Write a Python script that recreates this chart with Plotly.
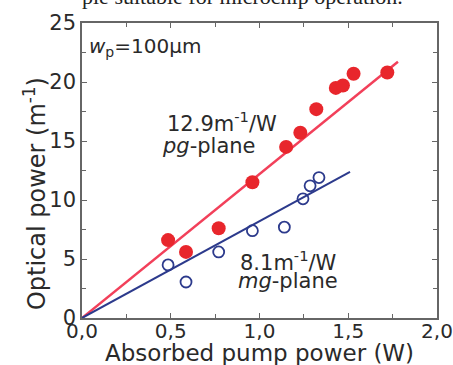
import plotly.graph_objects as go

# pg-plane (filled red)
pg_x = [0.485, 0.586, 0.77, 0.96, 1.15, 1.23, 1.32, 1.43, 1.47, 1.53, 1.72]
pg_y = [6.6, 5.6, 7.6, 11.5, 14.5, 15.7, 17.7, 19.5, 19.7, 20.7, 20.8]
# mg-plane (open blue)
mg_x = [0.485, 0.586, 0.77, 0.96, 1.14, 1.245, 1.285, 1.335]
mg_y = [4.5, 3.05, 5.6, 7.4, 7.7, 10.1, 11.2, 11.9]
# fit lines
pg_fit_x = [0.0, 1.78]
pg_fit_slope = 12.2
mg_fit_x = [0.0, 1.51]
mg_fit_slope = 8.2

x_tickvals = [0, 0.5, 1.0, 1.5, 2.0]
x_ticktext = ["0,0", "0,5", "1,0", "1,5", "2,0"]
y_tickvals = [0, 5, 10, 15, 20, 25]

RED = "#e8262c"
REDLINE = "#f2405a"
BLUE = "#2c3a8c"
FONT = "DejaVu Sans, Arial, sans-serif"
TXT = "#2a2a2a"

fig = go.Figure()
fig.add_trace(go.Scatter(x=pg_fit_x, y=[v * pg_fit_slope for v in pg_fit_x], mode="lines",
                         line=dict(color=REDLINE, width=2.5), showlegend=False))
fig.add_trace(go.Scatter(x=mg_fit_x, y=[v * mg_fit_slope for v in mg_fit_x], mode="lines",
                         line=dict(color=BLUE, width=2), showlegend=False))
fig.add_trace(go.Scatter(x=pg_x, y=pg_y, mode="markers",
                         marker=dict(color=RED, size=14, line=dict(width=0)), showlegend=False))
fig.add_trace(go.Scatter(x=mg_x, y=mg_y, mode="markers",
                         marker=dict(color="rgba(255,255,255,0)", size=11,
                                     line=dict(color=BLUE, width=1.8)), showlegend=False))

fig.update_layout(
    width=453, height=365,
    margin=dict(l=82, r=16, t=23, b=47, autoexpand=False),
    paper_bgcolor="white", plot_bgcolor="white",
    font=dict(family=FONT, size=21, color=TXT),
    xaxis=dict(range=[0, 2.0], tickvals=x_tickvals, ticktext=x_ticktext, automargin=False,
               ticks="inside", ticklen=5, tickcolor="#666", mirror="ticks",
               showline=True, linecolor="#666", linewidth=1.5, showgrid=False, zeroline=False,
               minor=dict(dtick=0.25, ticks="inside", ticklen=4, tickcolor="#666"),
               tickfont=dict(size=20), ticklabelstandoff=-6),
    yaxis=dict(range=[0, 25], tickvals=y_tickvals, automargin=False,
               ticks="inside", ticklen=5, tickcolor="#666", mirror="ticks",
               showline=True, linecolor="#666", linewidth=1.5, showgrid=False, zeroline=False,
               minor=dict(dtick=2.5, ticks="inside", ticklen=4, tickcolor="#666"),
               tickfont=dict(size=21)),
)

# axis titles
fig.add_annotation(x=0.499, y=0, xref="paper", yref="paper", xanchor="center", yanchor="middle",
                   yshift=-35, text="Absorbed pump power (W)", showarrow=False,
                   font=dict(size=23))
fig.add_annotation(x=0, y=0.42, xref="paper", yref="paper", xanchor="center", yanchor="middle",
                   xshift=-47, textangle=-90, text="Optical power (m<sup>-1</sup>)", showarrow=False,
                   font=dict(size=24))

fig.add_annotation(x=0.03, y=23.0, xref="x", yref="y", xanchor="left", yanchor="middle",
                   text="<i>w</i><sub>p</sub>=100\u00b5m", showarrow=False, font=dict(size=20))
fig.add_annotation(x=0.47, y=16.6, xref="x", yref="y", xanchor="left", yanchor="middle",
                   text="12.9m<sup>-1</sup>/W", showarrow=False, font=dict(size=21))
fig.add_annotation(x=0.44, y=14.6, xref="x", yref="y", xanchor="left", yanchor="middle",
                   text="<i>pg</i>-plane", showarrow=False, font=dict(size=21))
fig.add_annotation(x=0.88, y=4.8, xref="x", yref="y", xanchor="left", yanchor="middle",
                   text="8.1m<sup>-1</sup>/W", showarrow=False, font=dict(size=21))
fig.add_annotation(x=0.865, y=3.1, xref="x", yref="y", xanchor="left", yanchor="middle",
                   text="<i>mg</i>-plane", showarrow=False, font=dict(size=21))
# clipped caption line at the very top of the page
fig.add_annotation(x=-0.005, y=1.0 + 23 / 295, xref="paper", yref="paper",
                   xanchor="left", yanchor="middle", yshift=3,
                   text="ple suitable for microchip operation.", showarrow=False,
                   font=dict(size=22, family="Liberation Serif, Times New Roman, serif", color="#222"))

fig.write_html("out.html")
